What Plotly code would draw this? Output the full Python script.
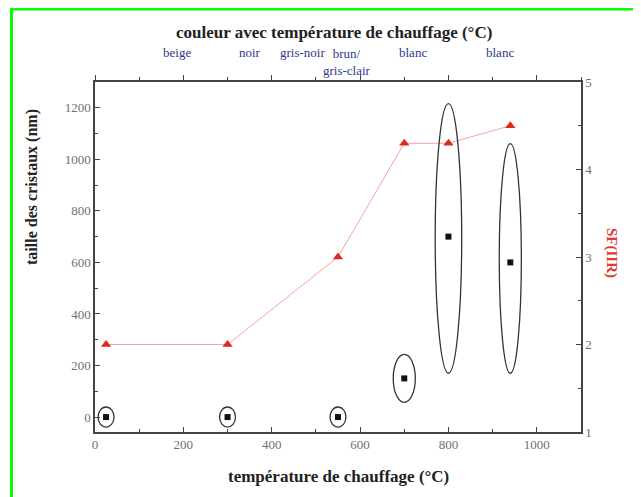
import plotly.graph_objects as go

# ---- data ----
temperature = [25, 300, 550, 700, 800, 940]          # °C
crystal_size = [0, 0, 0, 150, 700, 600]              # nm (left axis)
size_err_low = [39, 39, 39, 93, 530, 430]            # nm below value (ellipse)
size_err_high = [39, 39, 39, 93, 516, 461]           # nm above value (ellipse)
temp_err = [18, 18, 18, 25, 30, 25]                  # °C half-width (ellipse)
sf_iir = [2.0, 2.0, 3.0, 4.3, 4.3, 4.5]              # SF(IIR) (right axis)

color_labels = ["beige", "noir", "gris-noir", "brun/<br>gris-clair", "blanc", "blanc"]
color_label_x = [185, 350, 470, 570, 720, 917]

x_ticks = [0, 200, 400, 600, 800, 1000]
y_ticks = [0, 200, 400, 600, 800, 1000, 1200]
y2_ticks = [1, 2, 3, 4, 5]

FONT = "Liberation Serif"
AX = "#444444"
TICKC = "#707070"

# page offset (browser body margin) compensation
OFF = 8
W, H = 641 - OFF, 497 - OFF
L, T = 95 - OFF, 82 - OFF
R = W - (581 - OFF)
B = H - (432 - OFF)
pw, ph = W - L - R, H - T - B


def px(xs):  # screen x -> paper
    return (xs - OFF - L) / pw


def py(ys):  # screen y -> paper
    return (H - B - (ys - OFF)) / ph


fig = go.Figure()

fig.add_trace(go.Scatter(
    x=temperature, y=sf_iir, yaxis="y2", mode="lines+markers",
    line=dict(color="#f4a3a3", width=1),
    marker=dict(symbol="triangle-up", size=9, color="#e0281e"),
    showlegend=False, hoverinfo="skip"))

fig.add_trace(go.Scatter(
    x=temperature, y=crystal_size, mode="markers",
    marker=dict(symbol="square", size=6, color="#111111"),
    showlegend=False, hoverinfo="skip"))

shapes = []
for t, s, lo, hi, dt in zip(temperature, crystal_size, size_err_low, size_err_high, temp_err):
    shapes.append(dict(type="circle", xref="x", yref="y",
                       x0=t - dt, x1=t + dt, y0=s - lo, y1=s + hi,
                       line=dict(color="#333333", width=1.3)))

# green frame of the figure
shapes.append(dict(type="line", xref="paper", yref="paper",
                   x0=px(11.5), x1=px(11.5), y0=py(8), y1=py(505),
                   line=dict(color="#00ff00", width=3)))
shapes.append(dict(type="line", xref="paper", yref="paper",
                   x0=px(10), x1=px(650), y0=py(9), y1=py(9),
                   line=dict(color="#00ff00", width=3)))

annotations = []
for lab, xx in zip(color_labels, color_label_x):
    two = "<br>" in lab
    annotations.append(dict(x=xx, xref="x", y=py(62) if two else py(53), yref="paper", text=lab,
                            showarrow=False, xanchor="center", yanchor="middle",
                            font=dict(family=FONT, size=13, color="#2c3a8e")))

annotations += [
    dict(x=px(334), y=py(32), xref="paper", yref="paper", showarrow=False,
         xanchor="center", yanchor="middle",
         text="<b>couleur avec température de chauffage (°C)</b>",
         font=dict(family=FONT, size=17, color="#222222")),
    dict(x=px(338), y=py(476), xref="paper", yref="paper", showarrow=False,
         xanchor="center", yanchor="middle",
         text="<b>température de chauffage (°C)</b>",
         font=dict(family=FONT, size=17, color="#222222")),
    dict(x=px(32), y=py(187), xref="paper", yref="paper", showarrow=False, textangle=-90,
         xanchor="center", yanchor="middle",
         text="<b>taille des cristaux (nm)</b>",
         font=dict(family=FONT, size=16, color="#222222")),
    dict(x=px(612), y=py(253), xref="paper", yref="paper", showarrow=False, textangle=90,
         xanchor="center", yanchor="middle",
         text="<b>SF(IIR)</b>",
         font=dict(family=FONT, size=15, color="#e03a30")),
]

axis_common = dict(showline=True, linecolor=AX, linewidth=1.5, showgrid=False, zeroline=False,
                   tickfont=dict(family=FONT, size=13, color=TICKC), tickcolor=AX,
                   ticklen=5, tickwidth=1.2)

fig.update_layout(
    width=W, height=H, margin=dict(l=L, r=R, t=T, b=B),
    paper_bgcolor="white", plot_bgcolor="white",
    font=dict(family=FONT),
    xaxis=dict(range=[0, 1100], tickvals=x_ticks, ticks="inside",
               minor=dict(dtick=100, ticks="inside", ticklen=3, tickcolor=AX), **axis_common),
    xaxis2=dict(range=[0, 1100], overlaying="x", side="top",
                tickvals=x_ticks, ticks="outside", showticklabels=False,
                minor=dict(dtick=100, ticks="outside", ticklen=3, tickcolor=AX), **axis_common),
    yaxis=dict(range=[-58, 1300], tickvals=y_ticks, ticks="inside",
               minor=dict(dtick=100, ticks="inside", ticklen=3, tickcolor=AX), **axis_common),
    yaxis2=dict(range=[1, 5], tickvals=y2_ticks, overlaying="y", side="right", ticks="inside",
                minor=dict(dtick=0.5, ticks="inside", ticklen=3, tickcolor=AX), **axis_common),
    shapes=shapes, annotations=annotations,
)
# empty trace so that the top axis is drawn
fig.add_trace(go.Scatter(x=[None], y=[None], xaxis="x2", showlegend=False, hoverinfo="skip"))

fig.write_html("out.html")
